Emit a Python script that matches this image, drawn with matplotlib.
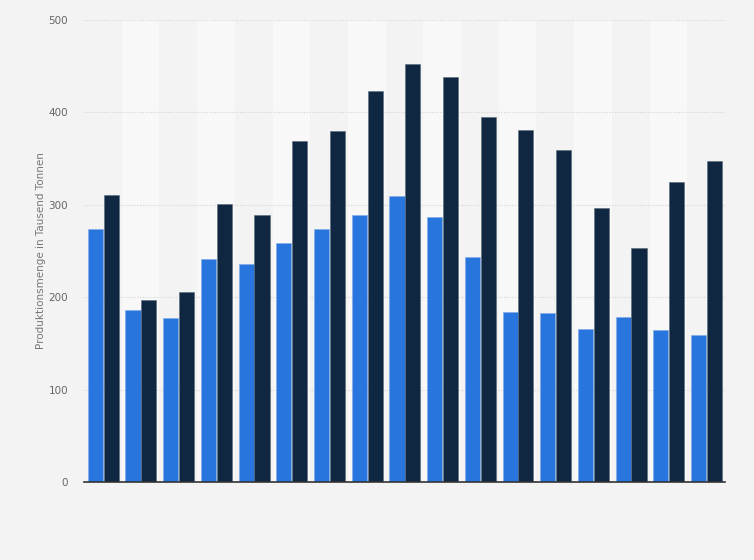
import numpy as np
import matplotlib.pyplot as plt

serie_a = [274, 186, 177, 241, 236, 259, 274, 289, 310, 287, 244, 184, 183, 166, 179, 165, 159]
serie_b = [311, 197, 206, 301, 289, 369, 380, 423, 452, 438, 395, 381, 359, 296, 253, 325, 347]
y_ticks = [0, 100, 200, 300, 400, 500]

farbe_a = '#2876dd'
farbe_b = '#0f2741'
bg = '#f3f3f3'

fig = plt.figure(figsize=(7.54, 5.6), dpi=100, facecolor=bg)
ax = fig.add_axes([84 / 754, 78 / 560, 641 / 754, 462 / 560])
ax.set_facecolor(bg)

n = len(serie_a)
x = np.arange(n)
w = 0.40

# hellere Streifen hinter jeder zweiten Gruppe
for i in range(1, n, 2):
    ax.axvspan(i - 0.5, i + 0.5, color='#f8f8f8', zorder=0, lw=0)

ax.bar(x - 0.2, serie_a, width=w, color=farbe_a, edgecolor='#7fa9e6', linewidth=0.4, zorder=3)
ax.bar(x + 0.22, serie_b, width=w, color=farbe_b, edgecolor='#5a6a7c', linewidth=0.4, zorder=3)

ax.set_xlim(-0.5, n - 0.5)
ax.set_ylim(0, 500)
ax.set_yticks(y_ticks)
ax.set_xticks([])
ax.grid(axis='y', color='#d4d4d4', linestyle=(0, (1, 1.5)), linewidth=0.8, zorder=1)
ax.tick_params(axis='y', length=0, labelsize=7.5, labelcolor='#666666', pad=11.5)

for s in ['top', 'right', 'left']:
    ax.spines[s].set_visible(False)
ax.spines['bottom'].set_color('#333333')
ax.spines['bottom'].set_linewidth(1.2)
ax.spines['bottom'].set_zorder(4)

ax.set_ylabel('Produktionsmenge in Tausend Tonnen', fontsize=7.5, color='#777777', labelpad=2)

fig.savefig('out.png', dpi=100, facecolor=bg)
